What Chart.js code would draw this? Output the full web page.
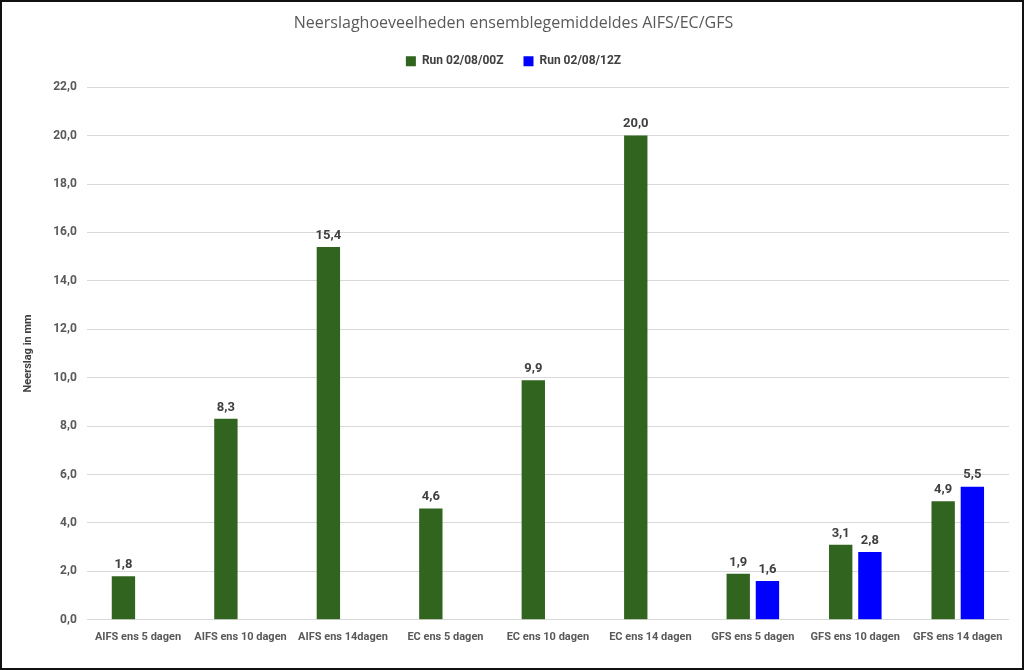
<!DOCTYPE html>
<html>
<head>
<meta charset="utf-8">
<script src="https://cdn.jsdelivr.net/npm/chart.js@4"></script>
<style>
  html, body { margin: 0; padding: 0; background: #fff; }
  #frame {
    width: 1024px;
    height: 670px;
    box-sizing: border-box;
    border: 2px solid #111;
    background: #fff;
  }
  #wrap { width: 1020px; height: 666px; }
</style>
</head>
<body>
<div id="frame"><div id="wrap"><canvas id="rainChart"></canvas></div></div>
<script>
const categories = [
  "AIFS ens 5 dagen", "AIFS ens 10 dagen", "AIFS ens 14dagen",
  "EC ens 5 dagen", "EC ens 10 dagen", "EC ens 14 dagen",
  "GFS ens 5 dagen", "GFS ens 10 dagen", "GFS ens 14 dagen"
];
const run00Z = [1.8, 8.3, 15.4, 4.6, 9.9, 20.0, 1.9, 3.1, 4.9];
const run12Z = [null, null, null, null, null, null, 1.6, 2.8, 5.5];
const seriesNames = ["Run 02/08/00Z", "Run 02/08/12Z"];

const fmt = (v) => v.toFixed(1).replace(".", ",");

// draws the value above every bar
const valueLabels = {
  id: "valueLabels",
  afterDatasetsDraw(chart) {
    const ctx = chart.ctx;
    ctx.save();
    ctx.font = "bold 13px Roboto";
    ctx.fillStyle = "#404040";
    ctx.textAlign = "center";
    ctx.textBaseline = "bottom";
    chart.data.datasets.forEach((ds, i) => {
      const meta = chart.getDatasetMeta(i);
      meta.data.forEach((bar, j) => {
        const v = ds.data[j];
        if (v === null || v === undefined) return;
        ctx.fillText(fmt(v), bar.x, bar.y - 5);
      });
    });
    ctx.restore();
  }
};

// extra room under the legend
const legendGap = {
  id: "legendGap",
  beforeInit(chart) {
    const fit = chart.legend.fit;
    chart.legend.fit = function () {
      fit.bind(chart.legend)();
      this.height += 10;
    };
  }
};

const data = {
  labels: categories,
  datasets: [
    {
      label: seriesNames[0],
      data: run00Z,
      backgroundColor: "#31641F",
      categoryPercentage: 0.57,
      barPercentage: 0.8,
    },
    {
      label: seriesNames[1],
      data: run12Z,
      backgroundColor: "#0000FF",
      categoryPercentage: 0.57,
      barPercentage: 0.8,
    },
  ],
};

const config = {
  type: "bar",
  data: data,
  options: {
    responsive: true,
    maintainAspectRatio: false,
    animation: false,
    layout: { padding: { left: 16, right: 13, top: 6, bottom: 21 } },
    scales: {
      x: {
        grid: { display: false },
        border: { display: false },
        ticks: {
          color: "#595959",
          font: { family: "Roboto", size: 11, weight: "bold" },
          maxRotation: 0,
          autoSkip: false,
        },
      },
      y: {
        min: 0,
        max: 22,
        grid: { color: "#d9d9d9", drawTicks: false },
        border: { display: false },
        ticks: {
          stepSize: 2,
          padding: 10,
          color: "#595959",
          font: { family: "Roboto", size: 12, weight: "bold" },
          callback: (v) => fmt(v),
        },
        title: {
          display: true,
          text: "Neerslag in mm",
          color: "#404040",
          font: { family: "Roboto", size: 11, weight: "bold" },
          padding: { bottom: 8 },
        },
      },
    },
    plugins: {
      title: {
        display: true,
        text: "Neerslaghoeveelheden ensemblegemiddeldes AIFS/EC/GFS",
        color: "#595959",
        font: { family: "Open Sans", size: 16, weight: "normal" },
        padding: { top: 6, bottom: 2 },
      },
      legend: {
        labels: {
          boxWidth: 10,
          boxHeight: 10,
          color: "#404040",
          padding: 20,
          font: { family: "Roboto", size: 12, weight: "bold" },
        },
      },
      tooltip: { enabled: false },
    },
  },
  plugins: [valueLabels, legendGap],
};

const ctx = document.getElementById("rainChart").getContext("2d");
const rainChart = new Chart(ctx, config);
</script>
</body>
</html>
